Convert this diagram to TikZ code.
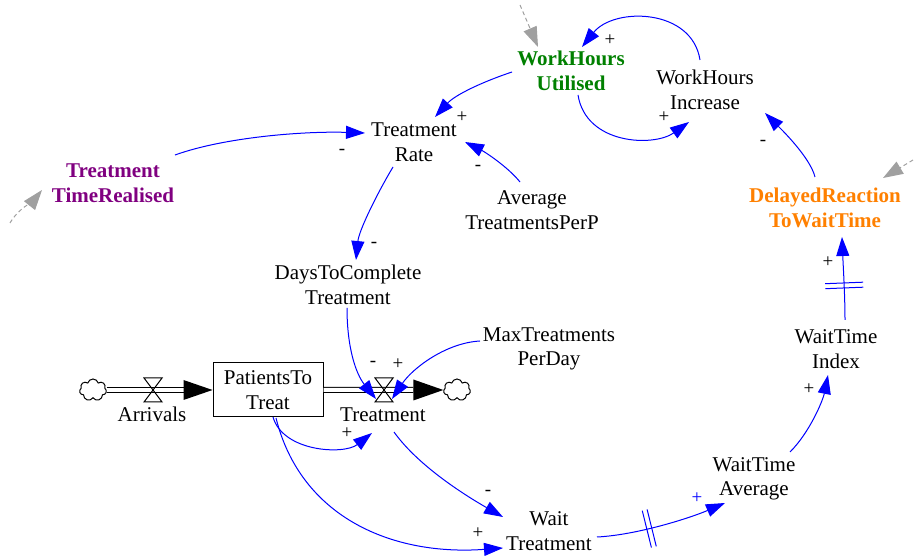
\documentclass[tikz,border=0pt]{standalone}
\usepackage{fontspec}
\setmainfont{Liberation Serif}
\usetikzlibrary{arrows.meta,shapes.symbols}

\definecolor{vblue}{RGB}{0,0,255}
\definecolor{vgreen}{RGB}{0,128,0}
\definecolor{vpurple}{RGB}{128,0,128}
\definecolor{vorange}{RGB}{255,128,0}
\definecolor{vgray}{RGB}{160,160,160}

\tikzset{
  var/.style={align=center, font=\fontsize{10.5}{12.3}\selectfont, inner sep=0pt},
  keyvar/.style={var, font=\fontsize{10.5}{12.3}\selectfont\bfseries},
  pol/.style={font=\fontsize{9.5}{10}\selectfont, inner sep=0pt},
  conn/.style={draw=vblue, line width=0.5pt, -{Triangle[length=9.5pt,width=6.5pt]}},
  ghost/.style={draw=vgray, line width=0.5pt, dash pattern=on 2pt off 1.5pt,
    -{Triangle[length=10pt,width=7pt]}},
  pipe/.style={draw=black, line width=0.5pt, double, double distance=2pt},
  stock/.style={draw, line width=0.5pt, minimum width=55pt, minimum height=27pt,
    align=center, font=\fontsize{10.5}{12.3}\selectfont, inner sep=0pt},
  source/.style={cloud, draw, cloud puffs=7, aspect=1.2, minimum width=13.5pt,
    minimum height=11pt, inner sep=0pt, line width=0.5pt},
  valve/.pic={\draw[-, line width=0.5pt] (-4.5pt,6pt) -- (4.5pt,6pt) -- (-4.5pt,-6pt)
    -- (4.5pt,-6pt) -- cycle;},
  delay/.pic={\draw[-, draw=vblue, line width=0.5pt] (-1.25pt,-9.5pt) -- (-1.25pt,9.5pt)
    (1.25pt,-9.5pt) -- (1.25pt,9.5pt);},
}

\begin{document}
\begin{tikzpicture}[x=0.5pt, y=-0.5pt]
\useasboundingbox (0,0) rectangle (915,560);

% variables
\node[keyvar, text=vgreen] (wu) at (571,71) {WorkHours\\Utilised};
\node[var] (wi) at (705,90) {WorkHours\\Increase};
\node[var] (tr) at (414,142) {Treatment\\Rate};
\node[keyvar, text=vpurple] (ttr) at (113,183) {Treatment\\TimeRealised};
\node[var] (atp) at (532,210) {Average\\TreatmentsPerP};
\node[var] (dtc) at (348,285) {DaysToComplete\\Treatment};
\node[var] (mtp) at (549,349) {MaxTreatments\\PerDay};
\node[var] (wt) at (549,531) {Wait\\Treatment};
\node[var] (wta) at (754,479) {WaitTime\\Average};
\node[var] (wti) at (836,349) {WaitTime\\Index};
\node[keyvar, text=vorange] (drw) at (825,208) {DelayedReaction\\ToWaitTime};

% stock and flows
\node[stock] (ptt) at (268,390) {PatientsTo\\Treat};
\node[source] (c1) at (93,390) {};
\node[source] (c2) at (457,390) {};
\coordinate (av) at (153,390);
\coordinate (tv) at (384,390);
\node[var] (avl) at (152,414) {Arrivals};
\node[var] (tvl) at (383,415) {Treatment};

\draw[pipe] (c1.east) -- ([shift={(-29,0)}]ptt.west);
\fill ([shift={(-29,-10)}]ptt.west) -- (ptt.west) -- ([shift={(-29,10)}]ptt.west) -- cycle;
\draw[pipe] (ptt.east) -- ([shift={(-30,0)}]c2.west);
\fill ([shift={(-30,-10.5)}]c2.west) -- (c2.west) -- ([shift={(-30,10.5)}]c2.west) -- cycle;
\pic at (av) {valve};
\pic at (tv) {valve};

% causal connectors
\draw[conn] ([shift={(-59,1)}]wu.center) .. controls +(-30,10) and +(20,-22) .. ([shift={(21,-25)}]tr.center);
\draw[conn] ([shift={(-5,-30)}]wi.center) .. controls +(-8,-52) and +(32,-40) .. ([shift={(11,-24)}]wu.center);
\draw[conn] ([shift={(7,24)}]wu.center) .. controls +(8,50) and +(-35,25) .. ([shift={(-16,32)}]wi.center);
\draw[conn] ([shift={(62,-28)}]ttr.center) .. controls +(50,-18) and +(-60,-2) .. ([shift={(-49,-9)}]tr.center);
\draw[conn] ([shift={(-12,-28)}]atp.center) .. controls +(-12,-15) and +(20,10) .. ([shift={(51,0)}]tr.center);
\draw[conn] ([shift={(-21,25)}]tr.center) .. controls +(-15,25) and +(3,-30) .. ([shift={(8,-25)}]dtc.center);
\draw[conn] ([shift={(-1,23)}]dtc.center) .. controls +(0,40) and +(-20,-25) .. ([shift={(-8,9)}]tv);
\draw[conn] ([shift={(-69,-8)}]mtp.center) .. controls +(-35,2) and +(20,-30) .. ([shift={(8,9)}]tv);
\draw[conn] ([shift={(5,27)}]ptt.center) .. controls +(10,35) and +(-28,22) .. ([shift={(-12,43)}]tv);
\draw[conn] ([shift={(8,28)}]ptt.center) .. controls +(25,100) and +(-110,8) .. ([shift={(-46,17)}]wt.center);
\draw[conn] ([shift={(10,42)}]tv) .. controls +(25,35) and +(-35,-20) .. ([shift={(-46,-14)}]wt.center);
\draw[conn] ([shift={(48,6)}]wt.center) .. controls +(40,-2) and +(-35,15) .. ([shift={(-29,24)}]wta.center)
  pic[pos=0.4, sloped] {delay};
\draw[conn] ([shift={(36,-27)}]wta.center) .. controls +(20,-20) and +(-5,25) .. ([shift={(-8,26)}]wti.center);
\draw[conn] ([shift={(9,-29)}]wti.center) .. controls +(0,-25) and +(1,25) .. ([shift={(17,29)}]drw.center)
  pic[pos=0.42, sloped] {delay};
\draw[conn] ([shift={(-10,-31)}]drw.center) .. controls +(-5,-20) and +(15,15) .. ([shift={(60,23)}]wi.center);

% shadow-variable markers
\coordinate (g1) at (520,5);
\coordinate (g2) at (10,223);
\coordinate (g3) at (913,160);
\draw[ghost] (g1) -- ([shift={(-33,-24)}]wu.center);
\draw[ghost] (g2) .. controls +(8,-14) and +(-8,10) .. ([shift={(-71,7)}]ttr.center);
\draw[ghost] (g3) -- ([shift={(58,-30)}]drw.center);

% polarities
\node[pol] (p1) at (462,117) {+};
\node[pol] (p2) at (610,40) {+};
\node[pol] (p3) at (664,117) {+};
\node[pol] (p4) at (342,152) {-};
\node[pol] (p5) at (478,168) {-};
\node[pol] (p6) at (374,245) {-};
\node[pol] (p7) at (373,364) {-};
\node[pol] (p8) at (398,364) {+};
\node[pol] (p9) at (347,433) {+};
\node[pol] (p10) at (478,533) {+};
\node[pol] (p11) at (488,493) {-};
\node[pol, text=vblue] (p12) at (697,498) {+};
\node[pol] (p13) at (809,389) {+};
\node[pol] (p14) at (828,262) {+};
\node[pol] (p15) at (763,143) {-};
\end{tikzpicture}
\end{document}
